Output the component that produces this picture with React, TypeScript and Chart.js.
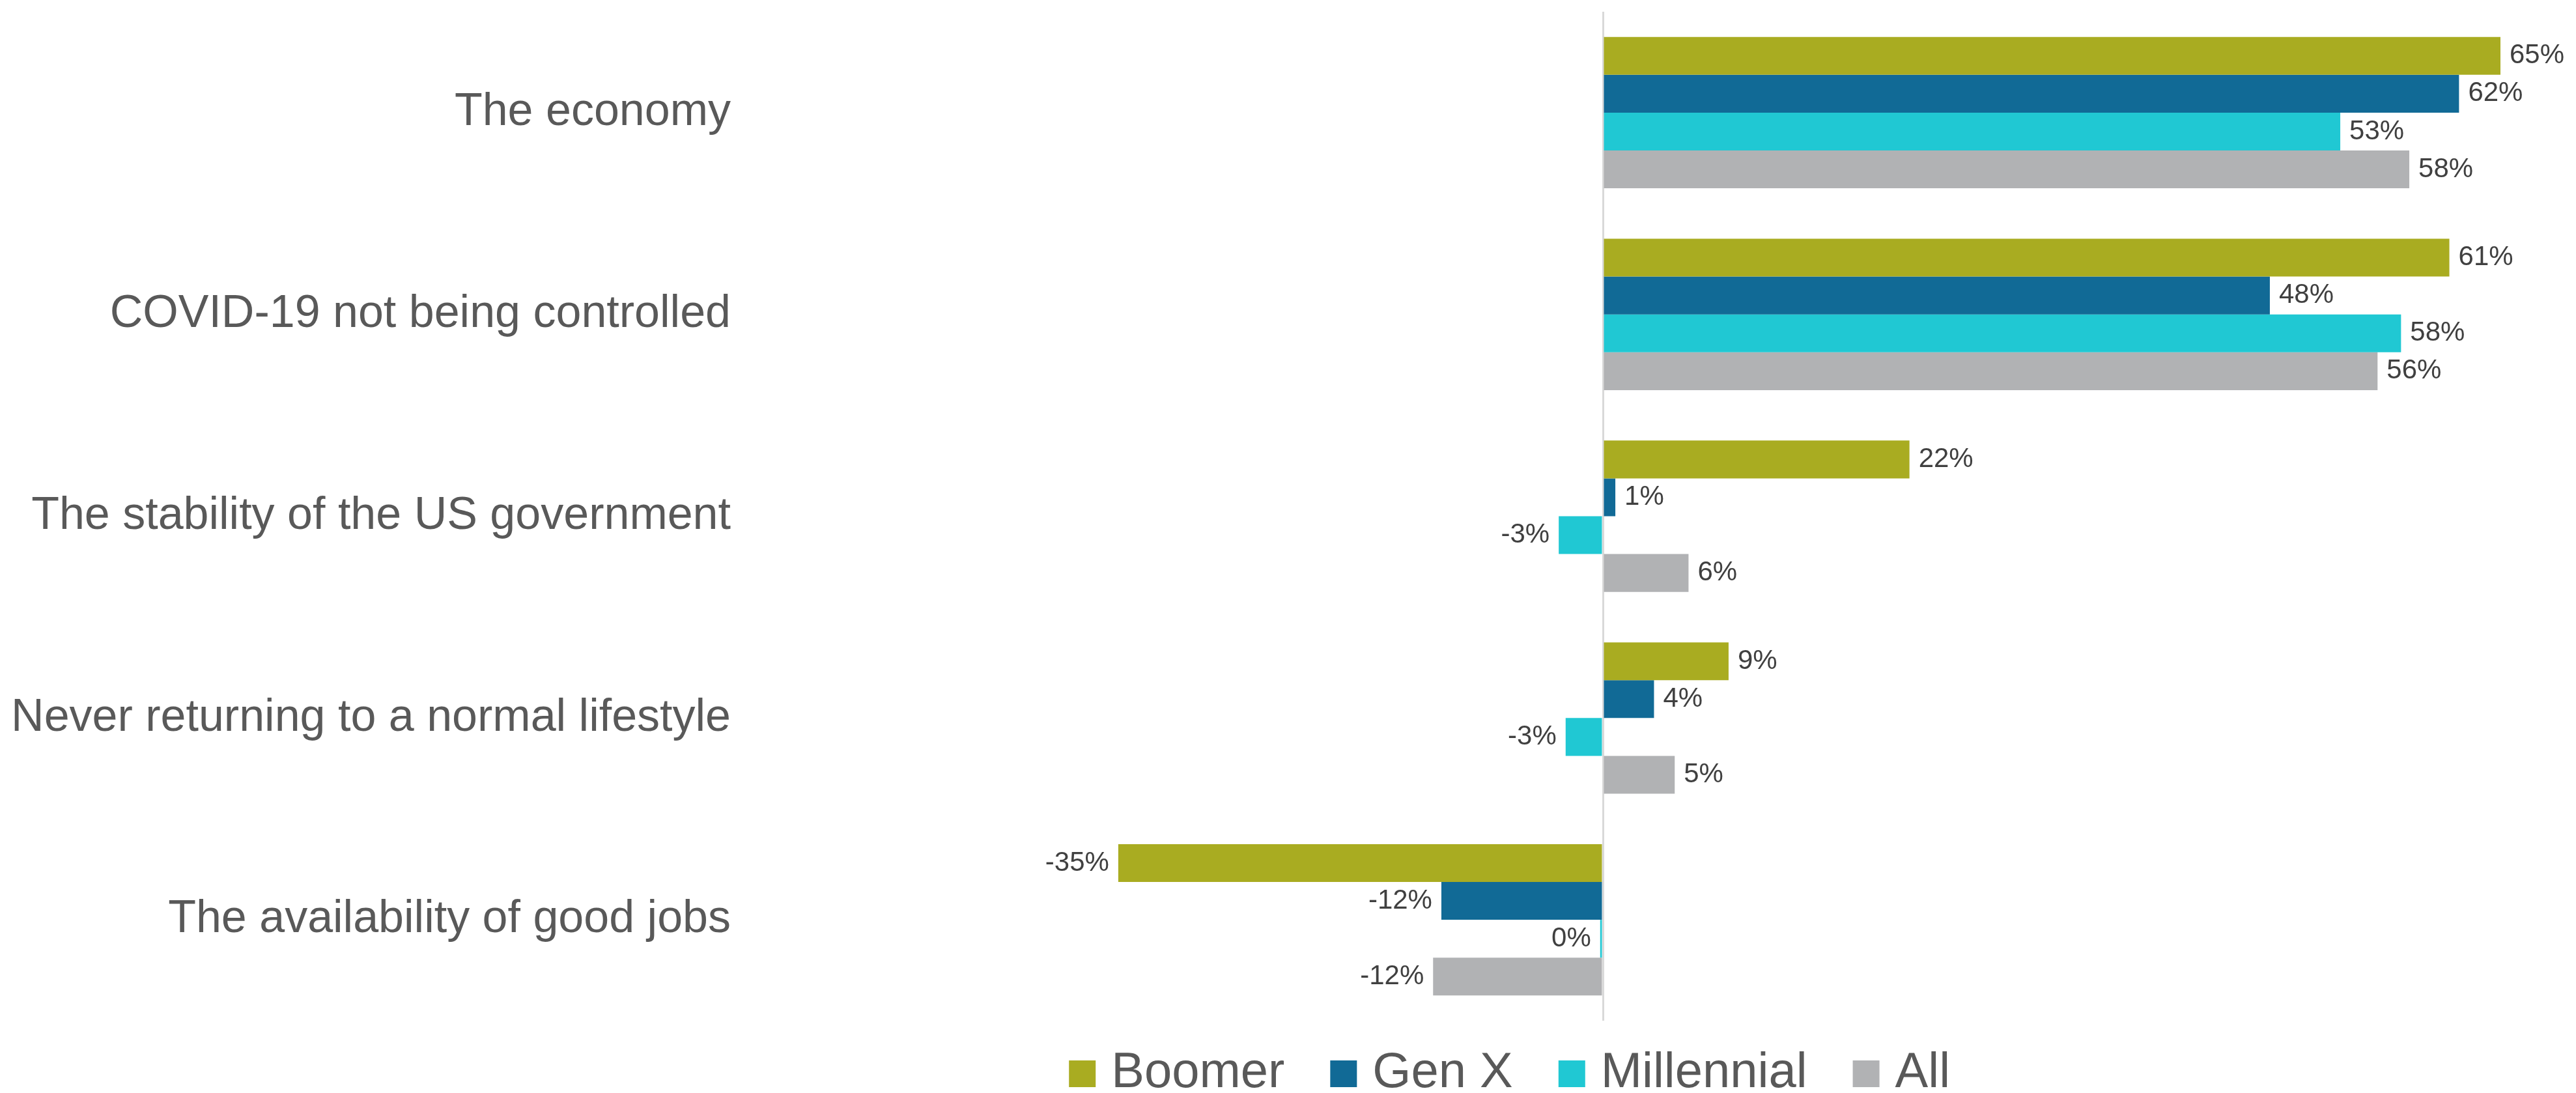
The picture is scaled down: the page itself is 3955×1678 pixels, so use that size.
import React, { useEffect, useRef } from "react";
import { Chart, registerables } from "chart.js";

Chart.register(...registerables);

const categories = [
  "The economy",
  "COVID-19 not being controlled",
  "The stability of the US government",
  "Never returning to a normal lifestyle",
  "The availability of good jobs",
];

const seriesNames = ["Boomer", "Gen X", "Millennial", "All"];

const boomer = [65, 61.3, 22.2, 9.1, -35.1];
const genX = [62, 48.3, 0.9, 3.7, -11.7];
const millennial = [53.4, 57.8, -3.2, -2.7, -0.2];
const all = [58.4, 56.1, 6.2, 5.2, -12.3];

const seriesColors = ["#A9AC21", "#116A96", "#20C8D3", "#B1B2B4"];

const axisMin = -60;
const axisMax = 70;

const FONT = "'Liberation Sans', Arial, sans-serif";

const dataLabelPlugin = {
  id: "dataLabels",
  afterDatasetsDraw(chart: any) {
    const ctx = chart.ctx;
    ctx.save();
    ctx.font = `42px ${FONT}`;
    ctx.fillStyle = "#404040";
    ctx.textBaseline = "middle";
    chart.data.datasets.forEach((ds: any, i: number) => {
      const meta = chart.getDatasetMeta(i);
      meta.data.forEach((bar: any, j: number) => {
        const v = ds.data[j] as number;
        const txt = `${Math.round(v)}%`;
        if (v >= 0) {
          ctx.textAlign = "left";
          ctx.fillText(txt, bar.x + 14, bar.y);
        } else {
          ctx.textAlign = "right";
          ctx.fillText(txt, bar.x - 14, bar.y);
        }
      });
    });
    ctx.restore();
  },
};

const legendPlugin = {
  id: "customLegend",
  afterDraw(chart: any) {
    const ctx = chart.ctx;
    const box = 41;
    const gapText = 24;
    const gapItem = 70;
    ctx.save();
    ctx.font = `76px ${FONT}`;
    const items = chart.data.datasets.map((ds: any) => ({
      text: ds.label,
      color: ds.backgroundColor,
      w: ctx.measureText(ds.label).width,
    }));
    const total =
      items.reduce((s: number, it: any) => s + box + gapText + it.w, 0) +
      gapItem * (items.length - 1);
    const center = chart.width * 0.586;
    let x = center - total / 2;
    const baseline = chart.height - 9;
    ctx.textBaseline = "alphabetic";
    ctx.textAlign = "left";
    items.forEach((it: any) => {
      ctx.fillStyle = it.color;
      ctx.fillRect(x, baseline - box, box, box);
      ctx.fillStyle = "#595959";
      ctx.fillText(it.text, x + box + gapText, baseline);
      x += box + gapText + it.w + gapItem;
    });
    ctx.restore();
  },
};

export default function App() {
  const canvasRef = useRef<HTMLCanvasElement | null>(null);

  useEffect(() => {
    if (!canvasRef.current) return;
    const seriesData = [boomer, genX, millennial, all];
    const chart = new Chart(canvasRef.current, {
      type: "bar",
      data: {
        labels: categories,
        datasets: seriesNames.map((name, i) => ({
          label: name,
          data: seriesData[i],
          backgroundColor: seriesColors[i],
          borderWidth: 0,
          categoryPercentage: 0.75,
          barPercentage: 1.0,
        })),
      },
      options: {
        indexAxis: "y",
        responsive: false,
        animation: false,
        layout: { padding: { top: 18, bottom: 111, right: 10, left: 0 } },
        plugins: {
          legend: { display: false },
          tooltip: { enabled: false },
          title: { display: false },
        },
        scales: {
          x: {
            min: axisMin,
            max: axisMax,
            ticks: { display: false, stepSize: 10 },
            border: { display: false },
            grid: {
              drawTicks: false,
              lineWidth: 3,
              color: (c: any) =>
                c.tick && c.tick.value === 0 ? "#D9D9D9" : "rgba(0,0,0,0)",
            },
          },
          y: {
            border: { display: false },
            grid: { display: false, drawTicks: false },
            ticks: {
              color: "#595959",
              font: { family: FONT, size: 70 },
              padding: 67,
              autoSkip: false,
            },
            afterFit: (scale: any) => {
              scale.width = 1189;
              scale.paddingTop = 0;
              scale.paddingBottom = 0;
            },
          },
        },
      },
      plugins: [dataLabelPlugin, legendPlugin],
    });
    return () => chart.destroy();
  }, []);

  return (
    <div
      style={{
        position: "absolute",
        left: 0,
        top: 0,
        width: 3955,
        height: 1678,
        background: "#ffffff",
      }}
    >
      <canvas
        ref={canvasRef}
        width={3955}
        height={1678}
        style={{ display: "block", width: 3955, height: 1678 }}
      />
    </div>
  );
}
